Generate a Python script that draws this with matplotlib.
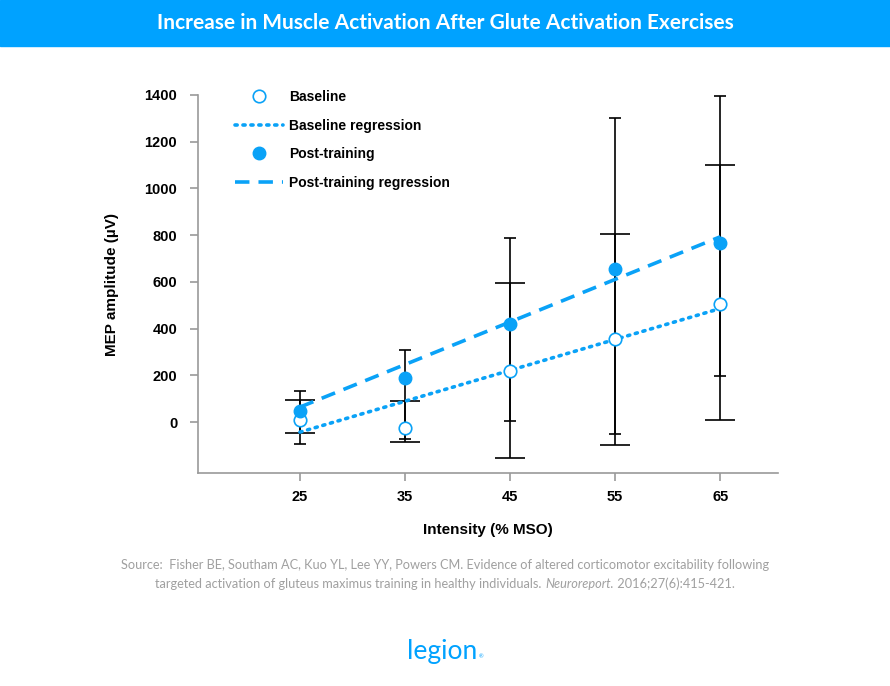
import numpy as np
import matplotlib
matplotlib.use("Agg")
import matplotlib.pyplot as plt
from matplotlib.lines import Line2D

# -----------------------------------
# DATA
# -----------------------------------
intensity = [25, 35, 45, 55, 65]

baseline = [10, -24, 220, 354, 507]
baseline_lo = [-45, -84, -153, -97, 10]
baseline_hi = [96, 90, 594, 803, 1099]

post = [46, 190, 421, 657, 765]
post_lo = [-93, -71, 3, -50, 199]
post_hi = [133, 310, 786, 1303, 1396]

fit_x = [25, 65]
baseline_fit = [-43, 486]
post_fit = [64, 793]

BLUE = "#0aa2f7"
GRAY = "#9a9a9a"
SRC = "#a0a0a0"
DOTTED = (0, (0.6, 1.6))
DASHED = (0, (4, 2.5))

# -----------------------------------
# FIGURE
# -----------------------------------
fig = plt.figure(figsize=(8.9, 6.86), dpi=100)
fig.patch.set_facecolor("white")

# title banner
fig.patches.append(plt.Rectangle((0, 1 - 46 / 686), 1, 46 / 686, transform=fig.transFigure,
                                 color="#00a2ff", zorder=0))
fig.text(0.5, 1 - 23 / 686, "Increase in Muscle Activation After Glute Activation Exercises",
         ha="center", va="center", color="white", fontsize=15, fontweight="bold", family="Lato")

ax = fig.add_axes([198 / 890, 1 - 473 / 686, 580 / 890, 378 / 686])

# error bars: baseline (wide caps), post-training (narrow caps)
b = np.array(baseline)
p = np.array(post)
ax.errorbar(intensity, b, yerr=[b - np.array(baseline_lo), np.array(baseline_hi) - b],
            fmt="none", ecolor="black", elinewidth=1.2, capsize=11, capthick=1.2, zorder=2)
ax.errorbar(intensity, p, yerr=[p - np.array(post_lo), np.array(post_hi) - p],
            fmt="none", ecolor="black", elinewidth=1.2, capsize=4, capthick=1.2, zorder=2)

# regression lines
ax.plot(fit_x, baseline_fit, color=BLUE, lw=2.6, linestyle=DOTTED,
        dash_capstyle="round", zorder=3)
ax.plot(fit_x, post_fit, color=BLUE, lw=2.6, linestyle=DASHED, zorder=3)

# points
ax.plot(intensity, baseline, "o", ms=9, mfc="white", mec=BLUE, mew=1.2, zorder=4)
ax.plot(intensity, post, "o", ms=9, mfc=BLUE, mec=BLUE, zorder=4)

ax.set_xlim(15.3, 70.5)
ax.set_ylim(-218, 1400)
ax.set_xticks(intensity)
ax.set_yticks(range(0, 1401, 200))

for s in ["top", "right"]:
    ax.spines[s].set_visible(False)
for s in ["left", "bottom"]:
    ax.spines[s].set_color(GRAY)
    ax.spines[s].set_linewidth(1.2)
ax.tick_params(colors=GRAY, length=6, width=1.2)
ax.tick_params(axis="y", pad=9)
ax.tick_params(axis="x", pad=6)
for lab in ax.get_xticklabels() + ax.get_yticklabels():
    lab.set_color("black")
    lab.set_fontweight("bold")
    lab.set_fontsize(10.5)
    lab.set_family("Liberation Sans")

ax.set_xlabel("Intensity (% MSO)", fontsize=11, fontweight="bold", family="Liberation Sans",
              labelpad=14)
ax.set_ylabel("MEP amplitude (µV)", fontsize=11, fontweight="bold", family="Liberation Sans",
              labelpad=18)

# legend
handles = [
    Line2D([], [], marker="o", ls="none", ms=9, mfc="white", mec=BLUE, mew=1.2),
    Line2D([], [], color=BLUE, lw=2.6, linestyle=DOTTED, dash_capstyle="round"),
    Line2D([], [], marker="o", ls="none", ms=9, mfc=BLUE, mec=BLUE),
    Line2D([], [], color=BLUE, lw=2.6, linestyle=DASHED),
]
labels = ["Baseline", "Baseline regression", "Post-training", "Post-training regression"]
ax.legend(handles, labels, loc="upper left", bbox_to_anchor=(0.054, 1.028), frameon=False,
          borderaxespad=0, handlelength=3.45, handletextpad=0.45, labelspacing=1.05,
          prop={"family": "Liberation Sans", "weight": "bold", "size": 10})

# source
fig.text(0.5, 1 - 565 / 686,
         "Source:  Fisher BE, Southam AC, Kuo YL, Lee YY, Powers CM. Evidence of altered corticomotor excitability following",
         ha="center", va="center", color=SRC, fontsize=9.2, family="Lato")

renderer = fig.canvas.get_renderer()
parts = [("targeted activation of gluteus maximus training in healthy individuals. ", "normal"),
         ("Neuroreport.", "italic"),
         (" 2016;27(6):415-421.", "normal")]
texts = []
for s, st in parts:
    t = fig.text(0, 1 - 584 / 686, s, ha="left", va="center", color=SRC, fontsize=9.2,
                 family="Lato", style=st)
    texts.append(t)
widths = [t.get_window_extent(renderer).width for t in texts]
x = (890 - sum(widths)) / 2
for t, w in zip(texts, widths):
    t.set_x(x / 890)
    x += w

# logo
logo = fig.text(407 / 890, 1 - 652 / 686, "legion", ha="left", va="center", color="#00a2ff",
                fontsize=19, family="Lato")
lw_ = logo.get_window_extent(renderer)
fig.text((lw_.x1 + 1) / 890, 1 - 657 / 686, "®", ha="left", va="center", color="#00a2ff",
         fontsize=4, family="Lato")

fig.savefig("out.png", dpi=100)
